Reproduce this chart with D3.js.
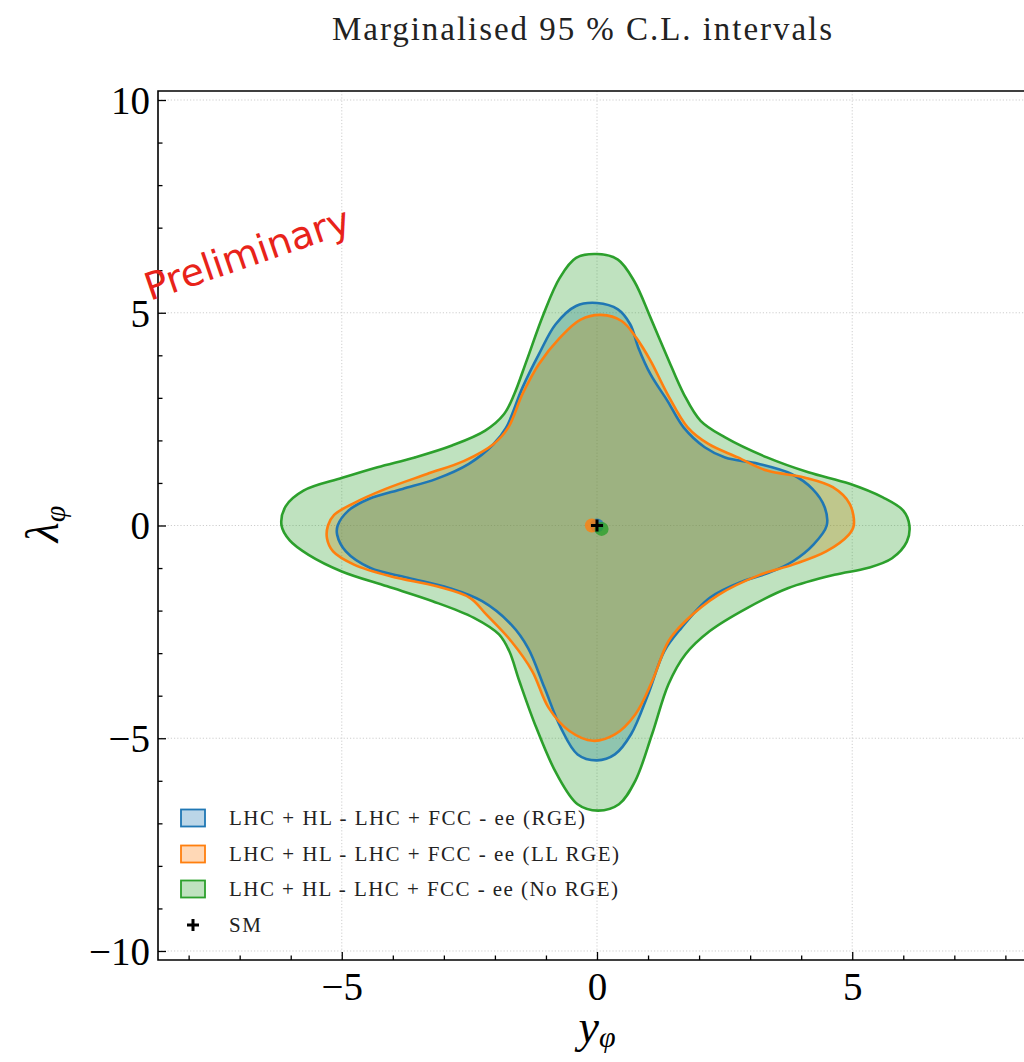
<!DOCTYPE html>
<html><head><meta charset="utf-8">
<script src="https://cdn.jsdelivr.net/npm/d3@7"></script>
<style>body{margin:0;background:#fff}svg{display:block}</style>
</head><body><svg id="c" width="1024" height="1062"></svg>
<script>
// ---- data ----
const seriesNames = ["LHC + HL - LHC + FCC - ee (RGE)", "LHC + HL - LHC + FCC - ee (LL RGE)", "LHC + HL - LHC + FCC - ee (No RGE)"];
const seriesColors = ["#1f77b4", "#ff7f0e", "#2ca02c"];
const contourRGE = [[-5.08,0],[-4.87,0.35],[-4.46,0.63],[-3.81,0.86],[-3.16,1.09],[-2.51,1.45],[-2.03,1.91],[-1.78,2.30],[-1.46,3.24],[-1.14,4.02],[-0.81,4.73],[-0.41,5.16],[0,5.23],[0.41,5.08],[0.65,4.73],[0.81,4.18],[1.05,3.55],[1.38,2.93],[1.70,2.30],[2.11,1.84],[2.51,1.60],[3.16,1.45],[3.81,1.21],[4.22,0.86],[4.46,0.43],[4.50,0],
  [4.24,-0.45],[3.84,-0.84],[3.35,-1.12],[2.86,-1.31],[2.21,-1.70],[1.65,-2.41],[1.32,-2.95],[1.0,-3.97],[0.67,-4.9],[0.35,-5.38],[0,-5.52],[-0.38,-5.38],[-0.71,-4.75],[-1.03,-3.81],[-1.35,-2.88],[-1.68,-2.33],[-2.25,-1.78],[-2.90,-1.47],[-3.71,-1.23],[-4.44,-1.0],[-4.92,-0.61],[-5.09,-0.22]];
const contourLLRGE = [[-5.27,0],[-5.15,0.25],[-4.79,0.51],[-4.14,0.86],[-3.33,1.21],[-2.60,1.52],[-2.03,1.91],[-1.74,2.30],[-1.46,3.09],[-1.14,3.79],[-0.73,4.41],[-0.32,4.84],[0.08,4.95],[0.49,4.80],[0.77,4.41],[1.05,3.87],[1.38,3.09],[1.78,2.30],[2.19,1.91],[2.76,1.60],[3.33,1.29],[4.06,1.13],[4.62,0.90],[4.95,0.51],[5.03,0],
  [4.93,-0.22],[4.49,-0.61],[3.84,-0.92],[3.19,-1.16],[2.38,-1.63],[1.73,-2.25],[1.40,-2.72],[1.08,-3.66],[0.75,-4.44],[0.35,-4.91],[-0.08,-5.06],[-0.54,-4.83],[-0.95,-4.28],[-1.27,-3.42],[-1.68,-2.72],[-2.17,-2.09],[-2.49,-1.70],[-3.14,-1.43],[-4.03,-1.20],[-4.76,-0.92],[-5.17,-0.61],[-5.29,-0.30]];
const contourNoRGE = [[-6.18,0],[-6.1,0.45],[-5.75,0.82],[-4.99,1.12],[-4.30,1.37],[-3.57,1.60],[-2.84,1.88],[-2.19,2.23],[-1.82,2.62],[-1.62,3.09],[-1.38,3.87],[-1.05,4.96],[-0.73,5.82],[-0.41,6.29],[0,6.38],[0.41,6.25],[0.73,5.74],[1.05,4.88],[1.38,3.95],[1.70,3.09],[2.03,2.46],[2.51,2.07],[3.33,1.60],[4.14,1.25],[4.95,0.98],[5.60,0.66],[6.0,0.35],[6.12,0],
  [6.07,-0.38],[5.78,-0.77],[5.30,-1.0],[4.65,-1.16],[3.75,-1.47],[2.94,-1.94],[2.21,-2.48],[1.73,-3.03],[1.40,-3.73],[1.08,-4.9],[0.75,-6.0],[0.43,-6.55],[0.02,-6.70],[-0.38,-6.55],[-0.79,-5.84],[-1.19,-4.75],[-1.52,-3.66],[-1.72,-2.95],[-1.92,-2.56],[-2.41,-2.17],[-3.22,-1.78],[-4.11,-1.43],[-5.0,-1.08],[-5.65,-0.69],[-6.02,-0.35]];
const bestFits = [[0.0,0.0],[-0.1,0.0],[0.09,-0.08]]; // RGE, LL RGE, No RGE
const smPoint = [0,0];
const xMajorTicks = [-5,0,5];
const yMajorTicks = [-10,-5,0,5,10];
const xMinorTicks = d3.range(-8,9,1);
const yMinorTicks = d3.range(-10,11,1);
const legendTextLengths = [356, 390, 389, 32];

// ---- layout ----
const svg = d3.select("#c");
const L = 158, R = 1036, T = 91, B = 960;
const x = d3.scaleLinear().domain([-8.6, 8.6]).range([L, R]);
const y = d3.scaleLinear().domain([-10.2, 10.2]).range([B - 0.5, T + 0.5]);
const serif = "'Liberation Serif', 'DejaVu Serif', serif";

svg.append("defs").append("clipPath").attr("id","clip").append("rect")
  .attr("x",L).attr("y",T).attr("width",R-L).attr("height",B-T);

// grid
const grid = svg.append("g").attr("stroke","#c8c8c8").attr("stroke-width",0.9).attr("stroke-dasharray","1.2,2");
grid.selectAll(".gx").data(xMajorTicks).join("line").attr("x1",d=>x(d)).attr("x2",d=>x(d)).attr("y1",T).attr("y2",B);
grid.selectAll(".gy").data(yMajorTicks).join("line").attr("y1",d=>y(d)).attr("y2",d=>y(d)).attr("x1",L).attr("x2",R);

// contours
const plot = svg.append("g").attr("clip-path","url(#clip)");
const line = d3.line().x(d=>x(d[0])).y(d=>y(d[1])).curve(d3.curveCatmullRomClosed.alpha(0.5));
const contours = [contourRGE, contourLLRGE, contourNoRGE];
contours.forEach((c,i)=>{
  plot.append("path").attr("d", line(c)).attr("fill", seriesColors[i]).attr("fill-opacity",0.3).attr("stroke","none");
});
contours.forEach((c,i)=>{
  plot.append("path").attr("d", line(c)).attr("fill","none").attr("stroke", seriesColors[i]).attr("stroke-width",2.6);
});
bestFits.forEach((p,i)=>{
  plot.append("circle").attr("cx",x(p[0])).attr("cy",y(p[1])).attr("r",7).attr("fill",seriesColors[i]).attr("fill-opacity",0.8);
});
// SM cross
const cs = 6;
plot.append("path").attr("d",`M${x(smPoint[0])-cs},${y(smPoint[1])}H${x(smPoint[0])+cs}M${x(smPoint[0])},${y(smPoint[1])-cs}V${y(smPoint[1])+cs}`)
  .attr("stroke","#000").attr("stroke-width",3);

// axes (ticks inward)
const xAx = svg.append("g").attr("transform",`translate(0,${B})`)
  .call(d3.axisBottom(x).tickValues(xMajorTicks).tickSize(-8).tickPadding(12).tickFormat(d3.format("d")));
const xAxm = svg.append("g").attr("transform",`translate(0,${B})`)
  .call(d3.axisBottom(x).tickValues(xMinorTicks.filter(v=>!xMajorTicks.includes(v))).tickSize(-4.5).tickFormat(""));
const yAx = svg.append("g").attr("transform",`translate(${L},0)`)
  .call(d3.axisLeft(y).tickValues(yMajorTicks).tickSize(-8).tickPadding(8).tickFormat(d3.format("d")));
const yAxm = svg.append("g").attr("transform",`translate(${L},0)`)
  .call(d3.axisLeft(y).tickValues(yMinorTicks.filter(v=>!yMajorTicks.includes(v))).tickSize(-4.5).tickFormat(""));
[xAx,xAxm,yAx,yAxm].forEach(g=>{
  g.select(".domain").remove();
  g.selectAll(".tick line").attr("stroke","#000").attr("stroke-width",1.3);
  g.selectAll(".tick text").attr("font-family",serif).attr("font-size",39).attr("fill","#000");
});
xAx.selectAll(".tick text").attr("dy","0.71em");
yAx.selectAll(".tick text").attr("dy","0.34em");
// frame
svg.append("path").attr("d",`M${R+20},${T}H${L}V${B}H${R+20}`).attr("fill","none").attr("stroke","#000").attr("stroke-width",1.6);

// title
svg.append("text").attr("x",332).attr("y",40).attr("font-family",serif)
  .attr("font-size",33).attr("fill","#222").attr("textLength",500).attr("lengthAdjust","spacing")
  .text("Marginalised 95 % C.L. intervals");

// axis labels
const xl = svg.append("text").attr("x",597).attr("y",1042).attr("text-anchor","middle").attr("font-family",serif).attr("font-size",46).attr("fill","#000");
xl.append("tspan").attr("font-style","italic").text("y");
xl.append("tspan").attr("font-style","italic").attr("font-size",30).attr("dy",5).text("φ");
const yl = svg.append("text").attr("transform","translate(58,524) rotate(-90)").attr("text-anchor","middle").attr("font-family",serif).attr("font-size",46).attr("fill","#000");
yl.append("tspan").attr("font-style","italic").text("λ");
yl.append("tspan").attr("font-style","italic").attr("font-size",30).attr("dy",7).text("φ");

// Preliminary
svg.append("text").attr("transform","translate(150,301) rotate(-19)").attr("font-family","'DejaVu Sans', sans-serif")
  .attr("font-size",38).attr("fill","#e8231a").text("Preliminary");

// legend
const lg = svg.append("g");
const rowY = [818, 854, 889, 925];
seriesNames.forEach((n,i)=>{
  lg.append("rect").attr("x",181).attr("y",rowY[i]-8.5).attr("width",24).attr("height",17)
    .attr("fill",seriesColors[i]).attr("fill-opacity",0.3).attr("stroke",seriesColors[i]).attr("stroke-width",1.8);
  lg.append("text").attr("x",229).attr("y",rowY[i]).attr("dy","0.35em").attr("font-family",serif).attr("font-size",21)
    .attr("fill","#222").attr("textLength",legendTextLengths[i]).attr("lengthAdjust","spacing").text(n);
});
lg.append("path").attr("d",`M${193-6},${rowY[3]}H${193+6}M193,${rowY[3]-6}V${rowY[3]+6}`).attr("stroke","#000").attr("stroke-width",3);
lg.append("text").attr("x",229).attr("y",rowY[3]).attr("dy","0.35em").attr("font-family",serif).attr("font-size",21)
  .attr("fill","#222").attr("textLength",legendTextLengths[3]).attr("lengthAdjust","spacing").text("SM");
</script></body></html>
